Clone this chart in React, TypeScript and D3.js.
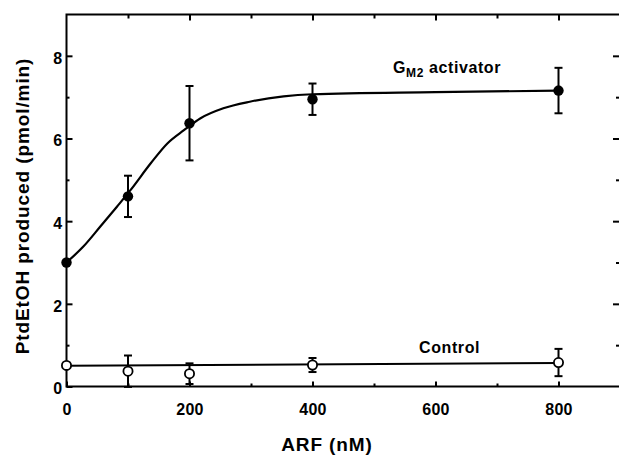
import { useEffect, useRef } from 'react'
import * as d3 from 'd3'

// ARF concentrations (nM)
const arf = [0, 100, 200, 400, 800]

// G_M2 activator series: mean and error
const gm2Mean = [3.0, 4.6, 6.37, 6.95, 7.16]
const gm2Err = [0, 0.5, 0.9, 0.38, 0.55]

// Control series
const ctrlMean = [0.51, 0.37, 0.31, 0.52, 0.58]
const ctrlErr = [0, 0.38, 0.25, 0.17, 0.33]

// fitted curves
const gm2FitX = [0, 27, 55, 82, 104, 137, 164, 191, 218, 255, 298, 353, 400, 600, 800]
const gm2FitY = [3.0, 3.38, 3.87, 4.35, 4.75, 5.4, 5.88, 6.2, 6.49, 6.73, 6.89, 7.02, 7.07, 7.12, 7.16]
const ctrlFitX = [0, 800]
const ctrlFitY = [0.5, 0.57]

const xMajor = [0, 200, 400, 600, 800]
const xMinor = [100, 300, 500, 700]
const yMajor = [0, 2, 4, 6, 8]
const yMinor = [1, 3, 5, 7]

export default function App() {
  const canvas = useRef<SVGSVGElement | null>(null)

  useEffect(() => {
    draw()
  }, [])

  const draw = () => {
    const width = 619
    const height = 456
    const left = 66.5
    const right = 620
    const top = 14.5
    const bottom = 386.5
    const font = "'Liberation Sans', Arial, sans-serif"

    const svg = d3.select(canvas.current)
    svg.selectAll('*').remove()
    svg.attr('width', width).attr('height', height)
      .style('background', '#fff')

    const x = d3.scaleLinear().domain([0, 900]).range([left, right])
    const y = d3.scaleLinear().domain([0, 9]).range([bottom, top])

    // frame
    svg.append('rect')
      .attr('x', left).attr('y', top)
      .attr('width', right - left).attr('height', bottom - top)
      .attr('fill', 'none').attr('stroke', '#000').attr('stroke-width', 2)

    const styleAxis = (g: any) => {
      g.select('.domain').remove()
      g.selectAll('line').attr('stroke', '#000').attr('stroke-width', 2)
      g.selectAll('text')
        .attr('fill', '#000')
        .style('font-family', font)
        .style('font-weight', 'bold')
        .style('font-size', '16px')
        .style('letter-spacing', '0.3px')
    }

    // bottom axis
    svg.append('g')
      .attr('transform', `translate(0, ${bottom})`)
      .call(d3.axisBottom(x).tickValues(xMajor).tickSize(-5).tickPadding(17).tickFormat(d3.format('d')))
      .call(styleAxis)
    svg.append('g')
      .attr('transform', `translate(0, ${bottom})`)
      .call(d3.axisBottom(x).tickValues(xMinor).tickSize(-3).tickFormat(() => ''))
      .call(styleAxis)

    // top axis
    svg.append('g')
      .attr('transform', `translate(0, ${top})`)
      .call(d3.axisTop(x).tickValues(xMajor.slice(1)).tickSize(-6).tickFormat(() => ''))
      .call(styleAxis)
    svg.append('g')
      .attr('transform', `translate(0, ${top})`)
      .call(d3.axisTop(x).tickValues(xMinor).tickSize(-4).tickFormat(() => ''))
      .call(styleAxis)

    // left axis
    svg.append('g')
      .attr('transform', `translate(${left}, 0)`)
      .call(d3.axisLeft(y).tickValues(yMajor).tickSize(-6).tickPadding(4).tickFormat(d3.format('d')))
      .call(styleAxis)
      .selectAll('text').attr('dy', '0.45em')
    svg.append('g')
      .attr('transform', `translate(${left}, 0)`)
      .call(d3.axisLeft(y).tickValues(yMinor).tickSize(-3).tickFormat(() => ''))
      .call(styleAxis)

    // right axis
    svg.append('g')
      .attr('transform', `translate(${right - 1}, 0)`)
      .call(d3.axisRight(y).tickValues(yMajor.slice(1)).tickSize(-6).tickFormat(() => ''))
      .call(styleAxis)
    svg.append('g')
      .attr('transform', `translate(${right - 1}, 0)`)
      .call(d3.axisRight(y).tickValues(yMinor).tickSize(-3).tickFormat(() => ''))
      .call(styleAxis)

    // fitted lines
    const line = d3.line<number>()
      .x((d) => x(d))
    svg.append('path')
      .attr('d', line.y((_d, i) => y(gm2FitY[i])).curve(d3.curveMonotoneX)(gm2FitX))
      .attr('fill', 'none').attr('stroke', '#000').attr('stroke-width', 2.2)
    svg.append('path')
      .attr('d', line.y((_d, i) => y(ctrlFitY[i])).curve(d3.curveLinear)(ctrlFitX))
      .attr('fill', 'none').attr('stroke', '#000').attr('stroke-width', 2)

    // error bars
    const errBars = (means: number[], errs: number[]) => {
      const g = svg.append('g').attr('stroke', '#000').attr('stroke-width', 2)
      arf.forEach((a, i) => {
        if (!errs[i]) return
        const cx = x(a)
        const y0 = y(means[i] - errs[i])
        const y1 = y(means[i] + errs[i])
        g.append('line').attr('x1', cx).attr('x2', cx).attr('y1', y0).attr('y2', y1)
        g.append('line').attr('x1', cx - 4).attr('x2', cx + 4).attr('y1', y0).attr('y2', y0)
        g.append('line').attr('x1', cx - 4).attr('x2', cx + 4).attr('y1', y1).attr('y2', y1)
      })
    }
    errBars(gm2Mean, gm2Err)
    errBars(ctrlMean, ctrlErr)

    // markers
    svg.append('g').selectAll('circle')
      .data(arf)
      .join('circle')
      .attr('cx', (d) => x(d))
      .attr('cy', (_d, i) => y(gm2Mean[i]))
      .attr('r', 5.2)
      .attr('fill', '#000')
    svg.append('g').selectAll('circle')
      .data(arf)
      .join('circle')
      .attr('cx', (d) => x(d))
      .attr('cy', (_d, i) => y(ctrlMean[i]))
      .attr('r', 4.6)
      .attr('fill', '#fff')
      .attr('stroke', '#000')
      .attr('stroke-width', 1.8)

    // series labels
    const gm2Label = svg.append('text')
      .attr('x', 393).attr('y', 73)
      .attr('fill', '#000')
      .style('font-family', font).style('font-weight', 'bold')
      .style('font-size', '16px').style('letter-spacing', '0.6px')
    gm2Label.append('tspan').text('G')
    gm2Label.append('tspan').attr('dy', 4).style('font-size', '12px').text('M2')
    gm2Label.append('tspan').attr('dy', -4).text(' activator')

    svg.append('text')
      .attr('x', 419).attr('y', 352.5)
      .attr('fill', '#000')
      .style('font-family', font).style('font-weight', 'bold')
      .style('font-size', '16px').style('letter-spacing', '0.6px')
      .text('Control')

    // axis titles
    svg.append('text')
      .attr('x', 327).attr('y', 451)
      .attr('text-anchor', 'middle')
      .attr('fill', '#000')
      .style('font-family', font).style('font-weight', 'bold')
      .style('font-size', '19px').style('letter-spacing', '0.9px')
      .text('ARF (nM)')

    svg.append('text')
      .attr('transform', 'translate(28.5, 206) rotate(-90)')
      .attr('text-anchor', 'middle')
      .attr('fill', '#000')
      .style('font-family', font).style('font-weight', 'bold')
      .style('font-size', '19px').style('letter-spacing', '0.9px')
      .text('PtdEtOH produced (pmol/min)')
  }

  return (
    <div className="sandbox">
      <svg ref={canvas} style={{ position: 'absolute', left: 0, top: 0 }}></svg>
    </div>
  )
}
